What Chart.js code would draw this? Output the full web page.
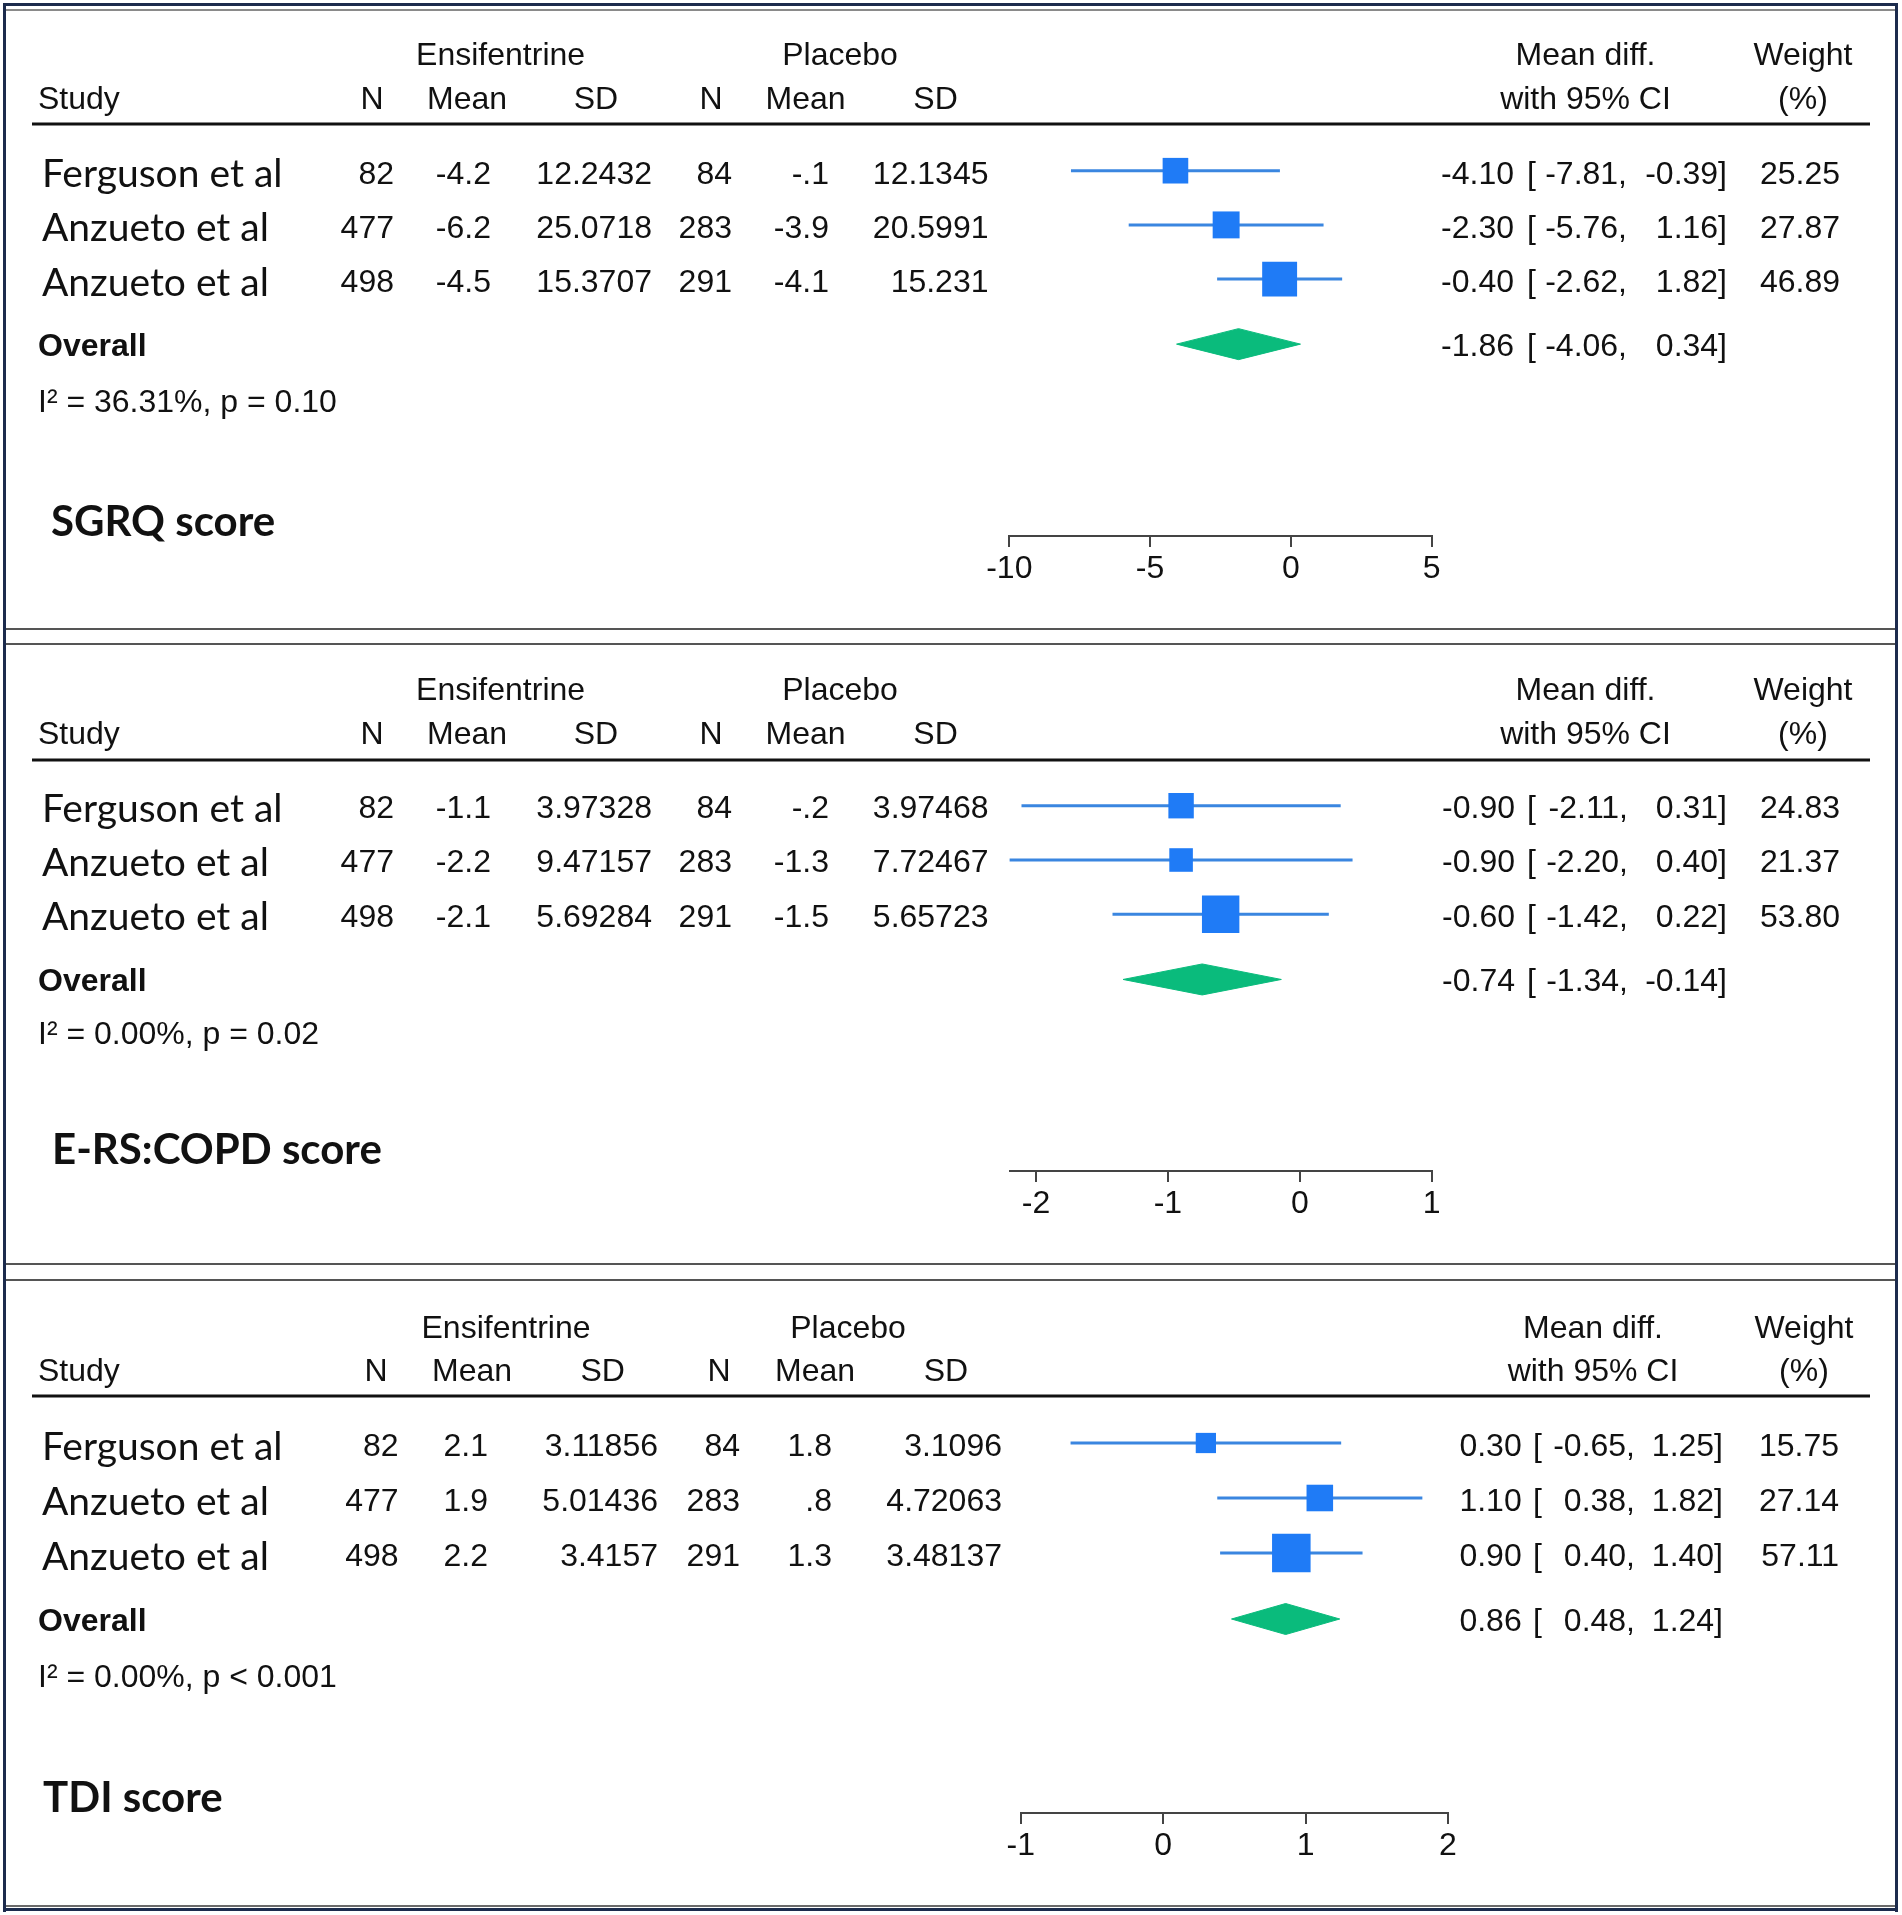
<!DOCTYPE html>
<html><head><meta charset="utf-8">
<script src="https://cdn.jsdelivr.net/npm/chart.js@4.4.1/dist/chart.umd.min.js"></script>
<style>
html,body{margin:0;padding:0;background:#fff;}
#page{position:relative;width:1902px;height:1915px;background:#fff;overflow:hidden;}
#page canvas{position:absolute;left:0;}
.ln{position:absolute;}
</style></head><body>
<div id="page">
  <div class="ln" style="left:3px;top:3px;width:1895px;height:3px;background:#1c2b4d"></div>
  <div class="ln" style="left:6px;top:9px;width:1889px;height:2px;background:#8a8a8a"></div>
  <div class="ln" style="left:3px;top:3px;width:3px;height:1909px;background:#1c2b4d"></div>
  <div class="ln" style="left:1895px;top:3px;width:3px;height:1909px;background:#1c2b4d"></div>
  <div class="ln" style="left:6px;top:1905px;width:1889px;height:2px;background:#6a6a6a"></div>
  <div class="ln" style="left:3px;top:1908px;width:1895px;height:3px;background:#1c2b4d"></div>
  <div class="ln" style="left:6px;top:628px;width:1889px;height:2px;background:#555"></div>
  <div class="ln" style="left:6px;top:643px;width:1889px;height:2px;background:#555"></div>
  <div class="ln" style="left:6px;top:1263px;width:1889px;height:2px;background:#555"></div>
  <div class="ln" style="left:6px;top:1279px;width:1889px;height:2px;background:#555"></div>
</div>
<script>
// ---------------- DATA ----------------
const STUDIES = ["Ferguson et al", "Anzueto et al", "Anzueto et al"];
const GROUP_HEADERS = ["Ensifentrine", "Placebo"];
const COL_HEADERS = ["Study", "N", "Mean", "SD", "N", "Mean", "SD"];
const RIGHT_HEADERS_1 = ["Mean diff.", "Weight"];
const RIGHT_HEADERS_2 = ["with 95% CI", "(%)"];
const OVERALL_LABEL = "Overall";

// SGRQ score
const SGRQ_TITLE = "SGRQ score";
const SGRQ_ENS_N = [82, 477, 498];
const SGRQ_ENS_MEAN = [-4.2, -6.2, -4.5];
const SGRQ_ENS_SD = [12.2432, 25.0718, 15.3707];
const SGRQ_PLA_N = [84, 283, 291];
const SGRQ_PLA_MEAN = [-0.1, -3.9, -4.1];
const SGRQ_PLA_SD = [12.1345, 20.5991, 15.231];
const SGRQ_MD = [-4.10, -2.30, -0.40];
const SGRQ_LO = [-7.81, -5.76, -2.62];
const SGRQ_HI = [-0.39, 1.16, 1.82];
const SGRQ_WEIGHT = [25.25, 27.87, 46.89];
const SGRQ_OVERALL = [-1.86, -4.06, 0.34];
const SGRQ_HET = ["36.31%", "p = 0.10"];
const SGRQ_TICKS = [-10, -5, 0, 5];

// E-RS:COPD score
const ERS_TITLE = "E-RS:COPD score";
const ERS_ENS_N = [82, 477, 498];
const ERS_ENS_MEAN = [-1.1, -2.2, -2.1];
const ERS_ENS_SD = [3.97328, 9.47157, 5.69284];
const ERS_PLA_N = [84, 283, 291];
const ERS_PLA_MEAN = [-0.2, -1.3, -1.5];
const ERS_PLA_SD = [3.97468, 7.72467, 5.65723];
const ERS_MD = [-0.90, -0.90, -0.60];
const ERS_LO = [-2.11, -2.20, -1.42];
const ERS_HI = [0.31, 0.40, 0.22];
const ERS_WEIGHT = [24.83, 21.37, 53.80];
const ERS_OVERALL = [-0.74, -1.34, -0.14];
const ERS_HET = ["0.00%", "p = 0.02"];
const ERS_TICKS = [-2, -1, 0, 1];

// TDI score
const TDI_TITLE = "TDI score";
const TDI_ENS_N = [82, 477, 498];
const TDI_ENS_MEAN = [2.1, 1.9, 2.2];
const TDI_ENS_SD = [3.11856, 5.01436, 3.4157];
const TDI_PLA_N = [84, 283, 291];
const TDI_PLA_MEAN = [1.8, 0.8, 1.3];
const TDI_PLA_SD = [3.1096, 4.72063, 3.48137];
const TDI_MD = [0.30, 1.10, 0.90];
const TDI_LO = [-0.65, 0.38, 0.40];
const TDI_HI = [1.25, 1.82, 1.40];
const TDI_WEIGHT = [15.75, 27.14, 57.11];
const TDI_OVERALL = [0.86, 0.48, 1.24];
const TDI_HET = ["0.00%", "p < 0.001"];
const TDI_TICKS = [-1, 0, 1, 2];

// ---------------- STYLE / LAYOUT ----------------
const SQ_COLOR = "#1f7bf6";
const CI_COLOR = "#3a86e0";
const DIA_COLOR = "#0abb7c";
const TXT = "#111111";
const HFONT = "'Liberation Sans', Arial, Helvetica, sans-serif";
const NFONT = "Lato, 'Open Sans', sans-serif";
const SQ_K = 5.1;

const LAYOUTS = [
  {top:11, bottom:628, h1:56, h2:100, rule:124, r1:170.7, step:54.2, txtOff:4, axisY:536,
   overallY:347, hetY:403, titleX:51, titleY:522,
   t0:-10, t0px:1009.3, t1:5, t1px:1431.7,
   c:{study:38, name:42, ens:500.6, pla:840, hN1:372, hM1:467, hS1:596, hN2:711, hM2:805.5, hS2:935.6,
      dN1:394, dM1:491, dS1:652, dN2:732, dM2:829, dS2:988.5, mdH:1585.5, wH:1803,
      mdR:1514, brL:1527, loR:1627, brR:1727, wR:1840}},
  {top:645, bottom:1263, h1:691, h2:735, rule:760, r1:805.7, step:54.3, txtOff:3.5, axisY:1171,
   overallY:982, hetY:1035, titleX:52, titleY:1150,
   t0:-2, t0px:1036, t1:1, t1px:1431.7,
   c:{study:38, name:42, ens:500.6, pla:840, hN1:372, hM1:467, hS1:596, hN2:711, hM2:805.5, hS2:935.6,
      dN1:394, dM1:491, dS1:652, dN2:732, dM2:829, dS2:988.5, mdH:1585.5, wH:1803,
      mdR:1515, brL:1527, loR:1628, brR:1727, wR:1840}},
  {top:1281, bottom:1905, h1:1329, h2:1372, rule:1396, r1:1443, step:55, txtOff:4, axisY:1813,
   overallY:1622, hetY:1678, titleX:43, titleY:1798,
   t0:-1, t0px:1020.7, t1:2, t1px:1448,
   c:{study:38, name:42, ens:506, pla:848, hN1:376, hM1:472, hS1:602.7, hN2:719, hM2:815, hS2:946,
      dN1:398.6, dM1:488, dS1:658, dN2:740, dM2:832, dS2:1002, mdH:1593, wH:1804,
      mdR:1521.7, brL:1533, loR:1635, brR:1723, wR:1839}}
];

const PANELS = [
  {title:SGRQ_TITLE, ensN:SGRQ_ENS_N, ensM:SGRQ_ENS_MEAN, ensS:SGRQ_ENS_SD, plaN:SGRQ_PLA_N, plaM:SGRQ_PLA_MEAN, plaS:SGRQ_PLA_SD,
   md:SGRQ_MD, lo:SGRQ_LO, hi:SGRQ_HI, w:SGRQ_WEIGHT, ov:SGRQ_OVERALL, het:SGRQ_HET, ticks:SGRQ_TICKS},
  {title:ERS_TITLE, ensN:ERS_ENS_N, ensM:ERS_ENS_MEAN, ensS:ERS_ENS_SD, plaN:ERS_PLA_N, plaM:ERS_PLA_MEAN, plaS:ERS_PLA_SD,
   md:ERS_MD, lo:ERS_LO, hi:ERS_HI, w:ERS_WEIGHT, ov:ERS_OVERALL, het:ERS_HET, ticks:ERS_TICKS},
  {title:TDI_TITLE, ensN:TDI_ENS_N, ensM:TDI_ENS_MEAN, ensS:TDI_ENS_SD, plaN:TDI_PLA_N, plaM:TDI_PLA_MEAN, plaS:TDI_PLA_SD,
   md:TDI_MD, lo:TDI_LO, hi:TDI_HI, w:TDI_WEIGHT, ov:TDI_OVERALL, het:TDI_HET, ticks:TDI_TICKS}
];

function gfmt(v){ return String(v).replace(/^(-?)0\./, '$1.'); }
function f2(v){ return v.toFixed(2); }

function textPlugin(p, L){
  return {
    id:'forestText',
    afterDraw(chart){
      const ctx = chart.ctx, c = L.c, o = L.top;
      ctx.save();
      ctx.fillStyle = TXT;
      ctx.textBaseline = 'middle';
      const T = (s, x, y, align, font) => { ctx.font = font; ctx.textAlign = align; ctx.fillText(s, x, y - o); };
      const hf = "32px " + HFONT;
      // headers
      T(GROUP_HEADERS[0], c.ens, L.h1, 'center', hf);
      T(GROUP_HEADERS[1], c.pla, L.h1, 'center', hf);
      T(RIGHT_HEADERS_1[0], c.mdH, L.h1, 'center', hf);
      T(RIGHT_HEADERS_1[1], c.wH, L.h1, 'center', hf);
      T(COL_HEADERS[0], c.study, L.h2, 'left', hf);
      T(COL_HEADERS[1], c.hN1, L.h2, 'center', hf);
      T(COL_HEADERS[2], c.hM1, L.h2, 'center', hf);
      T(COL_HEADERS[3], c.hS1, L.h2, 'center', hf);
      T(COL_HEADERS[4], c.hN2, L.h2, 'center', hf);
      T(COL_HEADERS[5], c.hM2, L.h2, 'center', hf);
      T(COL_HEADERS[6], c.hS2, L.h2, 'center', hf);
      T(RIGHT_HEADERS_2[0], c.mdH, L.h2, 'center', hf);
      T(RIGHT_HEADERS_2[1], c.wH, L.h2, 'center', hf);
      // rule
      ctx.fillStyle = '#111';
      ctx.fillRect(32, L.rule - 1.5 - o, 1838, 3);
      ctx.fillStyle = TXT;
      // rows
      const ys = chart.scales.y;
      for (let i = 0; i < STUDIES.length; i++) {
        const y = ys.getPixelForValue(i + 1) + o + L.txtOff;
        T(STUDIES[i], c.name, y, 'left', "39px " + NFONT);
        T(gfmt(p.ensN[i]), c.dN1, y, 'right', hf);
        T(gfmt(p.ensM[i]), c.dM1, y, 'right', hf);
        T(gfmt(p.ensS[i]), c.dS1, y, 'right', hf);
        T(gfmt(p.plaN[i]), c.dN2, y, 'right', hf);
        T(gfmt(p.plaM[i]), c.dM2, y, 'right', hf);
        T(gfmt(p.plaS[i]), c.dS2, y, 'right', hf);
        T(f2(p.md[i]), c.mdR, y, 'right', hf);
        T('[', c.brL, y, 'left', hf);
        T(f2(p.lo[i]) + ',', c.loR, y, 'right', hf);
        T(f2(p.hi[i]) + ']', c.brR, y, 'right', hf);
        T(f2(p.w[i]), c.wR, y, 'right', hf);
      }
      // overall
      T(OVERALL_LABEL, c.study, L.overallY, 'left', "bold 32px " + HFONT);
      T(f2(p.ov[0]), c.mdR, L.overallY, 'right', hf);
      T('[', c.brL, L.overallY, 'left', hf);
      T(f2(p.ov[1]) + ',', c.loR, L.overallY, 'right', hf);
      T(f2(p.ov[2]) + ']', c.brR, L.overallY, 'right', hf);
      // heterogeneity
      T('I\u00B2 = ' + p.het[0] + ', ' + p.het[1], c.study, L.hetY, 'left', hf);
      // title
      T(p.title, L.titleX, L.titleY, 'left', "bold 42px " + NFONT);
      ctx.restore();
    }
  };
}

const page = document.getElementById('page');

PANELS.forEach((p, idx) => {
  const L = LAYOUTS[idx];
  const H = L.bottom - L.top;
  const cv = document.createElement('canvas');
  cv.width = 1902; cv.height = H;
  cv.style.top = L.top + 'px';
  cv.style.width = '1902px'; cv.style.height = H + 'px';
  page.appendChild(cv);

  const n = p.md.length;
  const axMin = Math.min(...p.ticks, ...p.lo, p.ov[1]);
  const axMax = Math.max(...p.ticks, ...p.hi, p.ov[2]);
  const ppu = (L.t1px - L.t0px) / (L.t1 - L.t0);
  const pxL = L.t0px + (axMin - L.t0) * ppu;
  const pxR = L.t0px + (axMax - L.t0) * ppu;
  const yZeroPx = L.r1 - L.step;
  const yMax = (L.axisY - yZeroPx) / L.step;

  const datasets = [];
  for (let i = 0; i < n; i++) {
    datasets.push({type:'line', data:[{x:p.lo[i], y:i+1},{x:p.hi[i], y:i+1}], showLine:true,
      borderColor:CI_COLOR, borderWidth:3, pointRadius:0, order:3, clip:false, tension:0});
  }
  datasets.push({type:'scatter', data:p.md.map((m,i)=>({x:m, y:i+1})), pointStyle:'rect',
    pointRadius:p.w.map(w => SQ_K*Math.sqrt(w)/Math.SQRT2), pointHoverRadius:p.w.map(w => SQ_K*Math.sqrt(w)/Math.SQRT2),
    backgroundColor:SQ_COLOR, borderColor:SQ_COLOR, borderWidth:0, order:1, clip:false});
  const oy = n + 1.2, hh = 15.5 / L.step;
  datasets.push({type:'line', data:[{x:p.ov[1],y:oy},{x:p.ov[0],y:oy-hh},{x:p.ov[2],y:oy},{x:p.ov[0],y:oy+hh},{x:p.ov[1],y:oy}],
    showLine:true, fill:'shape', backgroundColor:DIA_COLOR, borderColor:DIA_COLOR, borderWidth:1,
    pointRadius:0, order:2, clip:false, tension:0});

  const chart = new Chart(cv, {
    type:'scatter',
    data:{datasets},
    options:{
      responsive:false, animation:false, devicePixelRatio:1, events:[],
      layout:{padding:{left:pxL, right:1902 - pxR, top:yZeroPx - L.top, bottom:40}},
      plugins:{legend:{display:false}, tooltip:{enabled:false}},
      scales:{
        x:{type:'linear', position:'bottom', min:axMin, max:axMax,
           afterBuildTicks:(s)=>{ s.ticks = p.ticks.map(v => ({value:v})); },
           ticks:{autoSkip:false, maxRotation:0, minRotation:0, padding:3, color:TXT,
                  font:{family:HFONT, size:32}, callback:(v)=>String(v)},
           grid:{display:true, drawOnChartArea:false, drawTicks:true, tickLength:11, color:'#444', lineWidth:2},
           border:{display:true, color:'#444', width:2}},
        y:{type:'linear', display:false, min:0, max:yMax, reverse:true}
      }
    },
    plugins:[textPlugin(p, L)]
  });
  for (let k = 0; k < 3; k++) {
    const target = L.axisY - L.top;
    const delta = chart.chartArea.bottom - target;
    if (Math.abs(delta) < 0.5) break;
    chart.options.layout.padding.bottom += delta;
    chart.update();
  }
  // keep y scale step consistent after bottom adjustment
  const area = chart.chartArea;
  chart.options.scales.y.max = (area.bottom - area.top) / L.step;
  chart.update();
});
</script>
</body></html>
